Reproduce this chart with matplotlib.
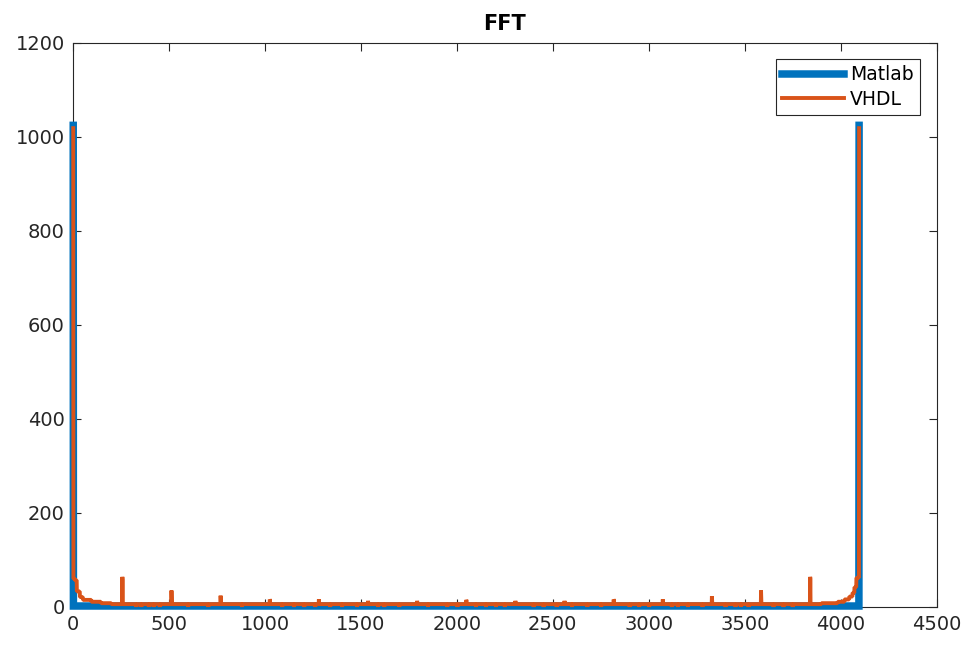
import matplotlib
matplotlib.use("Agg")
import matplotlib.pyplot as plt
import numpy as np

# FFT magnitude, 4096 bins (1-indexed like MATLAB)
n_bins = 4096
peak_matlab = 1024
floor_matlab = 2
peak_vhdl = 1018
floor_vhdl = 6

# VHDL leakage after the DC bin: (start bin, level)
head_bins = [2, 10, 20, 36, 52, 96, 146, 200]
head_vals = [60, 57, 33, 21, 15, 11, 8, floor_vhdl]

# spurs around multiples of 256
spur_bins = [257, 513, 769, 1025, 1281, 1537, 1793, 2049, 2305, 2561, 2817, 3073, 3329, 3585, 3841]
spur_vals = [64, 35, 24, 16, 16, 13, 13, 15, 13, 13, 16, 16, 23, 35, 64]
spur_next = [58, 20, 12, 15, 10, 10, 10, 14, 10, 10, 15, 12, 14, 22, 60]

# rise into the mirror DC bin: (start bin, level)
tail_bins = [3900, 3985, 4020, 4045, 4062, 4072, 4082, 4096]
tail_vals = [8, 11, 16, 22, 30, 42, 62, peak_vhdl]

# bins where the VHDL output drops to ~0
dip_bins = [40, 58, 75, 118, 330, 356, 395, 420, 452, 600, 705, 880, 1090, 1152,
            1205, 1262, 1340, 1402, 1480, 1590, 1622, 1700, 1850, 1950, 2003,
            2100, 2152, 2204, 2250, 2400, 2452, 2520, 2600, 2680, 2752, 2900,
            2950, 3002, 3120, 3152, 3204, 3280, 3400, 3452, 3480, 3520, 3650,
            3702, 3750, 3950]

bins = np.arange(1, n_bins + 1)

matlab = np.full(n_bins, float(floor_matlab))
matlab[0] = peak_matlab
matlab[-1] = peak_matlab

vhdl = np.full(n_bins, float(floor_vhdl))
for b in dip_bins:
    vhdl[b - 1] = 0
vhdl[0] = peak_vhdl
for i, b in enumerate(head_bins[:-1]):
    vhdl[b - 1:head_bins[i + 1] - 1] = head_vals[i]
for b, v, v2 in zip(spur_bins, spur_vals, spur_next):
    vhdl[b - 1] = v
    vhdl[b] = v2
for i, b in enumerate(tail_bins[:-1]):
    vhdl[b - 1:tail_bins[i + 1] - 1] = tail_vals[i]
vhdl[-1] = tail_vals[-1]

blue = "#0072BD"
orange = "#D95319"
dark = "#262626"

plt.rcParams["font.family"] = ["DejaVu Sans"]

fig = plt.figure(figsize=(9.66, 6.45), dpi=100)
ax = fig.add_axes([0.0756, 0.059, 0.894, 0.875])

ax.plot(bins, matlab, color=blue, lw=5.4, label="Matlab", clip_on=False,
        zorder=3, solid_joinstyle="miter")
ax.plot(bins, vhdl, color=orange, lw=2.8, label="VHDL", clip_on=False,
        zorder=4, solid_joinstyle="bevel")

ax.set_xlim(0, 4500)
ax.set_ylim(0, 1200)
ax.set_xticks(np.arange(0, 4501, 500))
ax.set_yticks(np.arange(0, 1201, 200))
ax.tick_params(direction="in", length=6, width=0.8, colors=dark,
               labelsize=14, top=True, right=True, pad=6)
for s in ax.spines.values():
    s.set_color(dark)
    s.set_linewidth(0.8)
    s.set_zorder(2)

ax.set_title("FFT", fontsize=15, fontweight="bold", color="black", pad=9)

leg = ax.legend(loc="upper right", fontsize=13.5, handlelength=3.3,
                fancybox=False, framealpha=1, edgecolor=dark,
                borderaxespad=0.9, handletextpad=0.35, labelspacing=0.28,
                borderpad=0.32)
leg.get_frame().set_linewidth(0.8)

fig.savefig("out.png", dpi=100)
